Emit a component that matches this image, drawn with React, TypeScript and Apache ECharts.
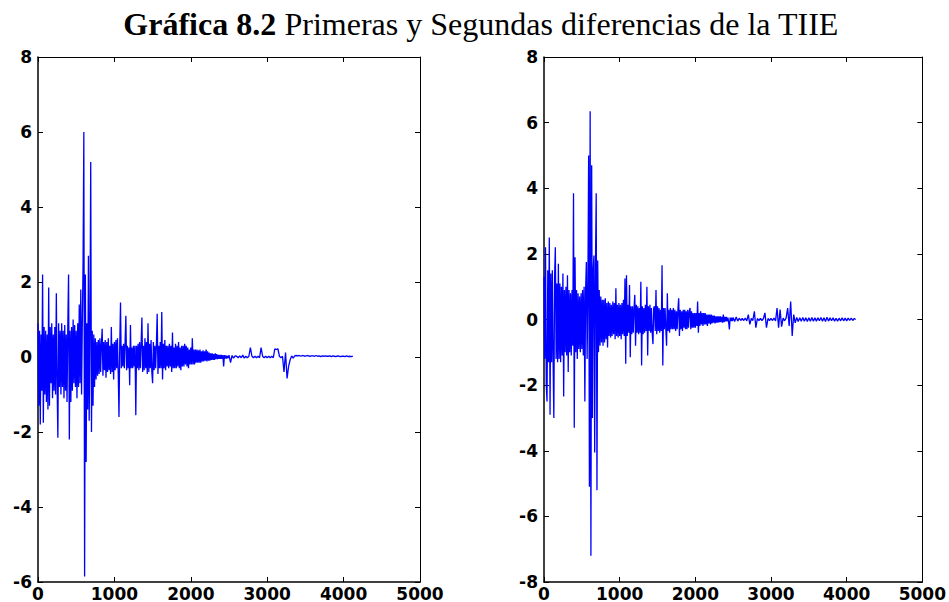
import React, { useEffect, useRef } from "react";
import * as echarts from "echarts";

// The series were transcribed at two sample spacings (observation index):
// every 10 observations up to index 2490, every 20 observations from 2500 on.
const DENSE_STEP = 10;
const TAIL_START = 2500;
const TAIL_STEP = 20;

// Left panel: first differences of TIIE, x = 0..2490 step 10
const firstDiffDense: number[] = [
  0.9, -1.3, 0.7, -1.8, 0.6, -0.9, 2.2, -1.75, 0.8, -1.0,
  0.7, -1.2, 0.6, -1.4, 1.85, -1.3, 0.8, -0.7, 0.9, -1.1,
  0.6, -0.9, 0.8, -1.0, 1.7, -0.7, -2.15, 0.9, -0.8, 0.7,
  -1.0, 0.9, -0.8, 0.7, -1.1, 0.85, -0.9, 0.6, -1.2, 0.8,
  2.2, -2.2, 0.7, -1.2, 0.8, -0.9, 1.0, -0.7, 0.85, -0.8,
  0.7, -1.1, 0.9, -0.8, 1.4, -0.7, 1.8, -1.0, 0.9, 2.5,
  6.0, -5.85, 2.2, -2.8, 0.9, -1.4, 2.7, -1.7, 0.8, 5.2,
  -2.0, 0.7, -1.3, 0.6, -0.8, 0.5, -0.6, 0.4, -0.5, 0.45,
  -0.45, 0.5, -0.4, 0.35, 0.75, -0.5, 0.4, -0.35, 0.45, -0.55,
  0.4, -0.4, 0.5, -0.35, 0.3, -0.45, 0.8, -0.4, 0.35, -0.6,
  0.4, -0.35, 0.45, -0.3, 0.5, -0.4, -1.6, 0.3, 1.45, -0.3,
  0.3, -0.25, 0.35, -0.3, 0.4, 1.1, -0.35, 0.3, -0.3, 0.25,
  -0.75, 0.85, -0.3, 0.25, -0.3, 0.3, -0.25, 0.3, -1.55, 0.3,
  -0.3, 0.35, -0.35, 0.4, -0.3, 0.35, 1.05, -0.4, 0.3, -0.35,
  0.5, -0.3, 0.4, -0.45, 0.9, -0.4, 0.35, -0.3, 0.45, -0.4,
  -0.7, 0.4, -0.35, 0.3, -0.3, 0.35, 1.15, -0.45, 0.3, -0.3,
  0.4, -0.3, 1.2, -0.6, 0.35, -0.3, 0.45, -0.35, 0.3, -0.25,
  0.3, -0.3, 0.35, -0.25, 0.3, -0.4, 0.65, -0.3, 0.25, -0.3,
  0.35, -0.3, 0.3, -0.25, 0.4, -0.3, 0.25, -0.35, 0.3, -0.25,
  0.3, -0.25, 0.35, -0.2, 0.3, -0.25, 0.25, -0.3, 0.2, -0.2,
  0.25, -0.2, 0.5, -0.2, 0.2, -0.2, 0.2, -0.15, 0.2, -0.15,
  0.18, -0.15, 0.2, -0.15, 0.15, -0.12, 0.18, -0.12, 0.15, -0.1,
  0.2, -0.12, 0.15, -0.1, 0.12, -0.1, 0.1, -0.08, 0.1, -0.08,
  0.08, -0.08, 0.1, -0.06, 0.08, -0.06, 0.06, -0.05, 0.06, -0.05,
  0.06, -0.05, 0.05, -0.25, 0.05, -0.04, 0.04, -0.04, 0.03, -0.03,
];

// Left panel, x = 2500..4120 step 20
const firstDiffTail: number[] = [
  0.05, -0.15, 0.04, -0.03, 0.03,
  0.02, -0.02, 0.03, -0.02, 0.05, -0.03, 0.02, -0.02, 0.02, 0.25,
  0.02, -0.02, 0.02, -0.02, 0.02, -0.02, 0.25, 0.02, -0.02, 0.02,
  -0.02, 0.02, -0.02, 0.02, -0.02, 0.22, 0.2, 0.22, 0.02, -0.02,
  0.02, -0.4, 0.12, -0.57, -0.25, -0.08, 0.03, -0.03, 0.03, 0.04,
  0.03, 0.04, 0.02, 0.04, 0.03, 0.02, 0.04, 0.03, 0.02, 0.03,
  0.03, 0.02, 0.04, 0.02, 0.03, 0.01, 0.03, 0.02, 0.03, 0.02,
  0.02, 0.03, 0.01, 0.03, 0.02, 0.01, 0.03, 0.02, 0.01, 0.02,
  0.02, 0.01, 0.03, 0.01, 0.02, 0.01, 0.02,
];

// Right panel: second differences of TIIE, x = 0..2490 step 10
const secondDiffDense: number[] = [
  1.3, -1.2, 2.2, -2.0, -2.5, 1.5, -1.3, 2.5, -2.9, 1.4,
  -1.3, 1.5, -1.2, -3.0, 1.3, 2.2, -1.2, 1.1, -1.3, 1.7,
  -1.2, 1.1, -1.3, 1.0, -1.1, 1.4, -2.35, 0.9, -1.0, 1.0,
  -1.1, 1.35, -1.6, 0.9, -1.0, 0.8, -1.1, 0.9, -0.8, 3.85,
  -3.3, 1.9, -1.0, 0.9, -1.2, 0.8, -0.9, 0.7, -1.0, 0.8,
  -0.9, 0.9, -1.1, 1.0, -2.5, 0.9, 1.75, -1.2, 1.0, 5.0,
  -5.1, 6.35, -7.2, 4.7, -3.0, 1.5, 1.95, -4.05, 1.6, 3.85,
  -5.2, 1.8, -1.0, 0.9, -0.8, 0.7, -0.7, 0.6, -0.8, 0.6,
  -0.7, 0.65, -0.6, 0.5, -0.85, 0.55, -0.5, 0.5, -0.55, 0.45,
  -0.5, 0.55, -0.45, 0.5, -0.6, 0.95, -0.5, 0.45, -0.55, 0.5,
  -0.5, 0.45, -0.6, 0.5, -0.45, 0.6, -0.5, 1.25, -1.35, 1.35,
  -0.5, 0.45, -0.4, 1.05, -1.15, 0.4, -0.45, 0.4, -0.4, 0.35,
  0.75, -0.8, 0.45, -0.4, 0.4, -0.45, 0.35, -0.4, 1.15, -1.4,
  0.4, -0.45, 0.35, -0.4, 0.45, -0.35, 1.0, -1.1, 0.4, -0.35,
  0.45, -0.4, 0.35, -0.4, -0.75, 0.35, 0.4, -0.35, 0.9, -0.45,
  0.4, -0.35, 0.35, -0.4, 0.3, -0.35, 1.65, -1.4, 0.35, -0.3,
  0.35, -0.3, -0.8, 0.8, -0.35, 0.3, -0.4, 0.35, -0.3, 0.3,
  -0.3, 0.35, -0.3, 0.3, -0.35, 0.25, -0.3, 0.3, 0.65, -0.5,
  0.3, -0.3, 0.25, -0.35, 0.3, -0.25, 0.3, -0.3, 0.25, -0.3,
  0.3, -0.25, 0.25, 0.35, -0.3, 0.25, -0.25, 0.2, -0.25, 0.2,
  -0.25, 0.2, -0.2, 0.55, -0.4, 0.2, -0.2, 0.25, -0.15, 0.2,
  -0.2, 0.2, -0.15, 0.2, -0.15, 0.15, -0.2, 0.15, -0.12, 0.15,
  -0.15, 0.15, -0.12, 0.12, -0.1, 0.12, -0.12, 0.1, -0.1, 0.1,
  -0.1, 0.1, -0.08, 0.1, -0.08, 0.08, -0.1, 0.15, -0.08, 0.08,
  -0.06, 0.08, -0.06, 0.06, -0.08, -0.3, 0.06, -0.05, 0.06, -0.05,
];

// Right panel, x = 2500..4120 step 20
const secondDiffTail: number[] = [
  0.06, -0.06, 0.08, -0.05, 0.04,
  -0.03, 0.03, -0.03, 0.04, -0.04, 0.15, -0.15, 0.03, -0.03, 0.25,
  -0.25, 0.03, -0.03, 0.03, -0.03, 0.03, 0.2, -0.25, 0.03, -0.03,
  0.03, -0.03, 0.04, -0.04, 0.35, -0.25, 0.3, -0.22, 0.04, -0.04,
  0.05, 0.35, -0.2, 0.55, -0.5, 0.15, -0.1, 0.06, -0.06, 0.05,
  -0.05, 0.06, -0.05, 0.05, -0.06, 0.05, -0.05, 0.06, -0.05, 0.05,
  -0.05, 0.05, -0.04, 0.06, -0.05, 0.05, -0.06, 0.07, -0.05, 0.05,
  -0.04, 0.05, -0.05, 0.04, -0.05, 0.04, -0.04, 0.05, -0.04, 0.04,
  -0.04, 0.04, -0.03, 0.04, -0.03, 0.03, 0.0,
];

const X_MIN = 0;
const X_MAX = 5000;
const X_INTERVAL = 1000;
const LEFT_Y = { min: -6, max: 8, interval: 2 };
const RIGHT_Y = { min: -8, max: 8, interval: 2 };

const TITLE_BOLD = "Gráfica 8.2";
const TITLE_REST = " Primeras y Segundas diferencias de la TIIE";

const labelFont = {
  fontFamily: "DejaVu Sans",
  fontWeight: "bold" as const,
  fontSize: 17,
  color: "#000",
};

function toPairs(dense: number[], tail: number[]) {
  const pts: number[][] = dense.map((v, i) => [i * DENSE_STEP, v]);
  tail.forEach((v, i) => pts.push([TAIL_START + i * TAIL_STEP, v]));
  return pts;
}

function xAxes(gridIndex: number) {
  const base = {
    type: "value" as const,
    gridIndex,
    min: X_MIN,
    max: X_MAX,
    interval: X_INTERVAL,
    splitLine: { show: false },
    axisLine: { show: true, onZero: false, lineStyle: { color: "#000", width: 1 } },
    axisTick: { show: true, inside: true, length: 5, lineStyle: { color: "#000", width: 1 } },
  };
  return [
    {
      ...base,
      position: "bottom" as const,
      axisLine: { show: true, onZero: false, lineStyle: { color: "#000", width: 1.5 } },
      axisLabel: { ...labelFont, margin: 3, formatter: (v: number) => String(v) },
    },
    { ...base, position: "top" as const, axisLabel: { show: false } },
  ];
}

function yAxes(gridIndex: number, r: { min: number; max: number; interval: number }) {
  const base = {
    type: "value" as const,
    gridIndex,
    min: r.min,
    max: r.max,
    interval: r.interval,
    splitLine: { show: false },
    axisLine: { show: true, onZero: false, lineStyle: { color: "#000", width: 1 } },
    axisTick: { show: true, inside: true, length: 5, lineStyle: { color: "#000", width: 1 } },
  };
  return [
    {
      ...base,
      position: "left" as const,
      axisLine: { show: true, onZero: false, lineStyle: { color: "#000", width: 1.5 } },
      axisLabel: { ...labelFont, margin: 6, formatter: (v: number) => String(v) },
    },
    { ...base, position: "right" as const, axisLabel: { show: false } },
  ];
}

export default function App() {
  const ref = useRef<HTMLDivElement>(null);

  useEffect(() => {
    if (!ref.current) return;
    const chart = echarts.init(ref.current, undefined, { renderer: "svg" });

    chart.setOption({
      animation: false,
      backgroundColor: "#fff",
      grid: [
        { left: 38, right: 529, top: 57, bottom: 19, containLabel: false },
        { left: 544, right: 23, top: 57, bottom: 19, containLabel: false },
      ],
      xAxis: [...xAxes(0), ...xAxes(1)],
      yAxis: [...yAxes(0, LEFT_Y), ...yAxes(1, RIGHT_Y)],
      graphic: [
        {
          type: "text",
          x: 481,
          y: 8,
          style: {
            text: `{b|${TITLE_BOLD}}{r|${TITLE_REST}}`,
            textAlign: "center",
            textVerticalAlign: "top",
            rich: {
              b: { fontFamily: "Liberation Serif", fontWeight: "bold", fontSize: 32, fill: "#000" },
              r: { fontFamily: "Liberation Serif", fontWeight: "normal", fontSize: 32, fill: "#000" },
            },
          },
        },
      ],
      series: [
        {
          type: "line",
          xAxisIndex: 0,
          yAxisIndex: 0,
          data: toPairs(firstDiffDense, firstDiffTail),
          showSymbol: false,
          symbol: "none",
          lineStyle: { color: "#0000ff", width: 1.3 },
          silent: true,
        },
        {
          type: "line",
          xAxisIndex: 2,
          yAxisIndex: 2,
          data: toPairs(secondDiffDense, secondDiffTail),
          showSymbol: false,
          symbol: "none",
          lineStyle: { color: "#0000ff", width: 1.3 },
          silent: true,
        },
      ],
    });
    return () => chart.dispose();
  }, []);

  return (
    <div
      ref={ref}
      style={{ position: "fixed", left: 0, top: 0, width: 949, height: 602 }}
    />
  );
}
